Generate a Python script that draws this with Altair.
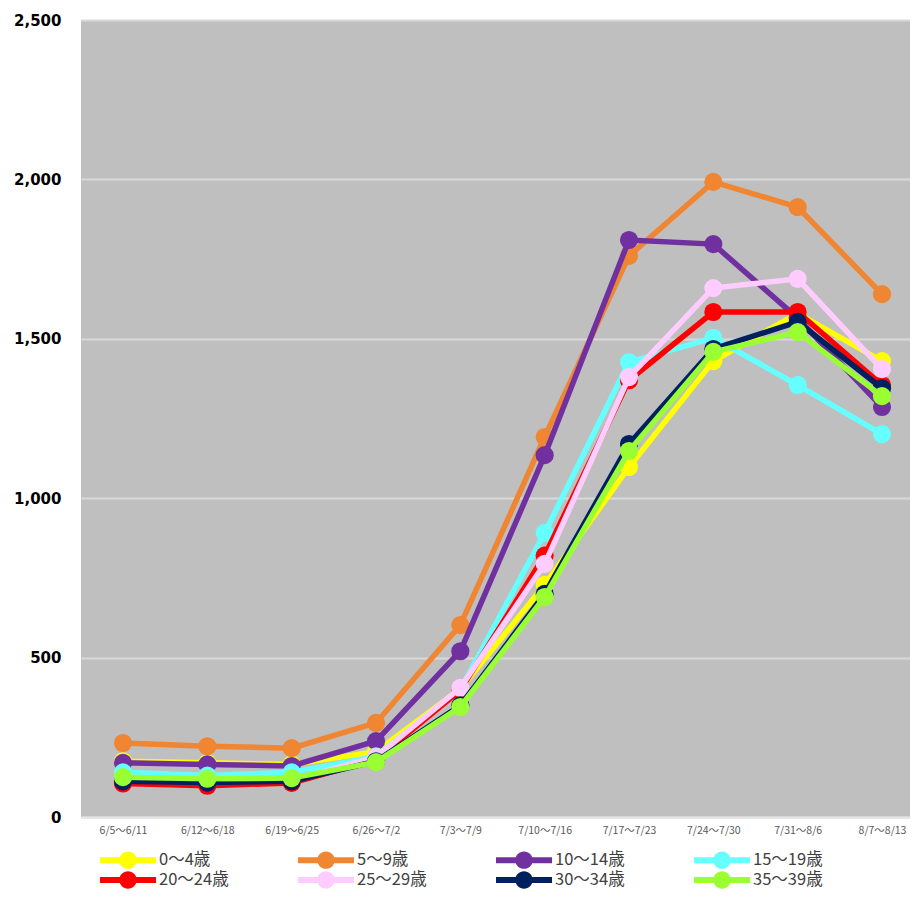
import altair as alt
import pandas as pd

weeks = ["6/5～6/11", "6/12～6/18", "6/19～6/25", "6/26～7/2", "7/3～7/9",
         "7/10～7/16", "7/17～7/23", "7/24～7/30", "7/31～8/6", "8/7～8/13"]

groups = ["0～4歳", "5～9歳", "10～14歳", "15～19歳",
          "20～24歳", "25～29歳", "30～34歳", "35～39歳"]

age0_4 = [175, 170, 165, 205, 402, 728, 1098, 1430, 1580, 1430]
age5_9 = [232, 222, 216, 295, 602, 1192, 1760, 1992, 1913, 1640]
age10_14 = [170, 165, 160, 238, 520, 1135, 1810, 1797, 1565, 1286]
age15_19 = [140, 130, 140, 190, 400, 891, 1427, 1503, 1355, 1201]
age20_24 = [105, 98, 107, 180, 398, 820, 1370, 1584, 1584, 1355]
age25_29 = [118, 112, 115, 188, 405, 794, 1380, 1659, 1688, 1405]
age30_34 = [112, 108, 112, 175, 350, 700, 1170, 1468, 1553, 1345]
age35_39 = [125, 120, 122, 172, 345, 690, 1148, 1459, 1521, 1320]

series = [age0_4, age5_9, age10_14, age15_19, age20_24, age25_29, age30_34, age35_39]

colors = ["#FFFF00", "#F08532", "#7030A0", "#66FFFF",
          "#FF0000", "#FFCCFF", "#002060", "#99FF33"]

rows = []
for g, vals in zip(groups, series):
    for w, v in zip(weeks, vals):
        rows.append({"week": w, "group": g, "value": v})
df = pd.DataFrame(rows)

x_enc = alt.X("week:N", sort=weeks,
              scale=alt.Scale(type="point", padding=0.415, align=0.6),
              axis=alt.Axis(title=None, labelAngle=0, ticks=False, domain=True,
                            domainColor="#E4E4E4", domainWidth=2,
                            labelFont="Noto Sans CJK JP", labelFontSize=10.5,
                            labelColor="#595959", labelPadding=8, grid=False))
y_enc = alt.Y("value:Q",
              scale=alt.Scale(domain=[0, 2500], nice=False),
              axis=alt.Axis(title=None, values=[0, 500, 1000, 1500, 2000, 2500],
                            format=",d", ticks=False, domain=False,
                            labelFont="DejaVu Sans", labelFontWeight="bold",
                            labelFontSize=15, labelColor="#000000", labelPadding=20,
                            grid=True, gridColor="#D9D9D9", gridWidth=2))

# line-with-dot legend symbol, drawn to the right of a small symbol box
legend_path = ("M-1,-0.3H4.6V0.3H-1Z "
               "M2.67,0A0.87,0.87 0 1,1 0.93,0A0.87,0.87 0 1,1 2.67,0Z")

color_enc = alt.Color("group:N", scale=alt.Scale(domain=groups, range=colors),
                      legend=alt.Legend(title=None, orient="bottom", direction="horizontal",
                                        columns=4, symbolType=legend_path, symbolSize=400,
                                        symbolStrokeWidth=0, symbolOpacity=1,
                                        labelFont="Noto Sans CJK JP",
                                        labelFontSize=16.5, labelColor="#404040",
                                        labelOffset=39, columnPadding=69, rowPadding=1,
                                        padding=19, offset=-5, labelLimit=200))

layers = []
for g in groups:
    base = alt.Chart(df).transform_filter(alt.datum.group == g)
    layers.append(base.mark_line(strokeWidth=5.5).encode(x=x_enc, y=y_enc, color=color_enc))
    layers.append(base.mark_point(filled=True, size=330, opacity=1, strokeWidth=0)
                  .encode(x=x_enc, y=y_enc, color=color_enc))

chart = alt.layer(*layers).properties(
    width=829, height=797,
    autosize=alt.AutoSizeParams(type="none"),
    padding={"left": 73, "top": 12, "right": 0, "bottom": 72},
    background="#FFFFFF",
).configure_view(fill="#BFBFBF", stroke=None)

chart.save("out.html", embed_options={"renderer": "svg", "actions": False})
